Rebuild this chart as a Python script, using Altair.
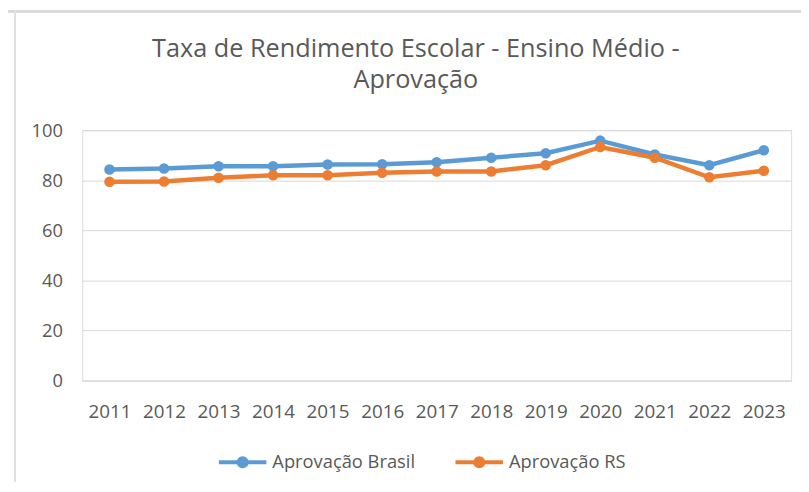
import altair as alt
import pandas as pd

anos = [2011, 2012, 2013, 2014, 2015, 2016, 2017, 2018, 2019, 2020, 2021, 2022, 2023]
aprov_brasil = [84.3, 84.7, 85.6, 85.6, 86.3, 86.4, 87.2, 89.0, 90.8, 95.8, 90.3, 86.0, 92.0]
aprov_rs = [79.4, 79.5, 81.0, 82.0, 82.0, 83.0, 83.5, 83.5, 86.0, 93.3, 89.0, 81.2, 83.8]
series = ["Aprovação Brasil", "Aprovação RS"]
cores = ["#5B9BD5", "#ED7D31"]
titulo = ["Taxa de Rendimento Escolar - Ensino Médio -", "Aprovação"]

rows = []
for a, b, r in zip(anos, aprov_brasil, aprov_rs):
    rows.append({"Ano": str(a), "Serie": series[0], "Valor": b})
    rows.append({"Ano": str(a), "Serie": series[1], "Valor": r})
df = pd.DataFrame(rows)

FONT = "Open Sans"
GRAY = "#595959"
LEG_PATH = "M-1,0H1M-0.17,0A0.17,0.17 0 1,1 0.17,0A0.17,0.17 0 1,1 -0.17,0Z"

base = alt.Chart(df)

color = alt.Color(
    "Serie:N",
    scale=alt.Scale(domain=series, range=cores),
    legend=alt.Legend(
        title=None,
        orient="none",
        direction="horizontal",
        legendX=136,
        legendY=309,
        symbolType=LEG_PATH,
        symbolSize=2304,
        symbolStrokeWidth=4,
        labelFont=FONT,
        labelFontSize=18.5,
        labelColor=GRAY,
        labelOffset=4,
        columnPadding=32,
        padding=0,
    ),
)

lines = base.mark_line(strokeWidth=4.5).encode(
    x=alt.X(
        "Ano:O",
        sort=[str(a) for a in anos],
        scale=alt.Scale(type="point", padding=0.5),
        axis=alt.Axis(
            title=None,
            labelAngle=0,
            labelFont=FONT,
            labelFontSize=19,
            labelColor=GRAY,
            labelPadding=22,
            ticks=False,
            domainColor="#d9d9d9",
            grid=False,
        ),
    ),
    y=alt.Y(
        "Valor:Q",
        scale=alt.Scale(domain=[0, 100]),
        axis=alt.Axis(
            title=None,
            values=[0, 20, 40, 60, 80, 100],
            labelFont=FONT,
            labelFontSize=18.5,
            labelColor=GRAY,
            labelPadding=20,
            ticks=False,
            domain=False,
            gridColor="#d9d9d9",
            gridWidth=1,
        ),
    ),
    color=color,
)

points = base.mark_circle(size=115, opacity=1).encode(
    x=alt.X("Ano:O", sort=[str(a) for a in anos]),
    y=alt.Y("Valor:Q"),
    fill=alt.Fill("Serie:N", scale=alt.Scale(domain=series, range=cores), legend=None),
)

border_top = alt.Chart(df).mark_rule(color="#d9d9d9", strokeWidth=2).encode(
    x=alt.value(-76), x2=alt.value(726), y=alt.value(-120)
)
border_left = alt.Chart(df).mark_rule(color="#e0e0e0", strokeWidth=1.5).encode(
    x=alt.value(-68), y=alt.value(-121), y2=alt.value(363)
)

chart = (
    alt.layer(border_top, border_left, lines, points)
    .properties(
        width=716,
        height=253,
        title=alt.Title(
            titulo,
            font=FONT,
            fontSize=25.5,
            fontWeight="normal",
            color=GRAY,
            anchor="middle",
            dx=-21,
            dy=125,
            offset=40,
            lineHeight=32,
        ),
        autosize=alt.AutoSizeParams(type="none"),
        padding={"left": 75, "top": 121, "right": 10, "bottom": 100},
    )
    .configure_view(stroke=None)
    .configure(background="white")
)

chart.save("out.html", embed_options={"renderer": "svg", "actions": False})
